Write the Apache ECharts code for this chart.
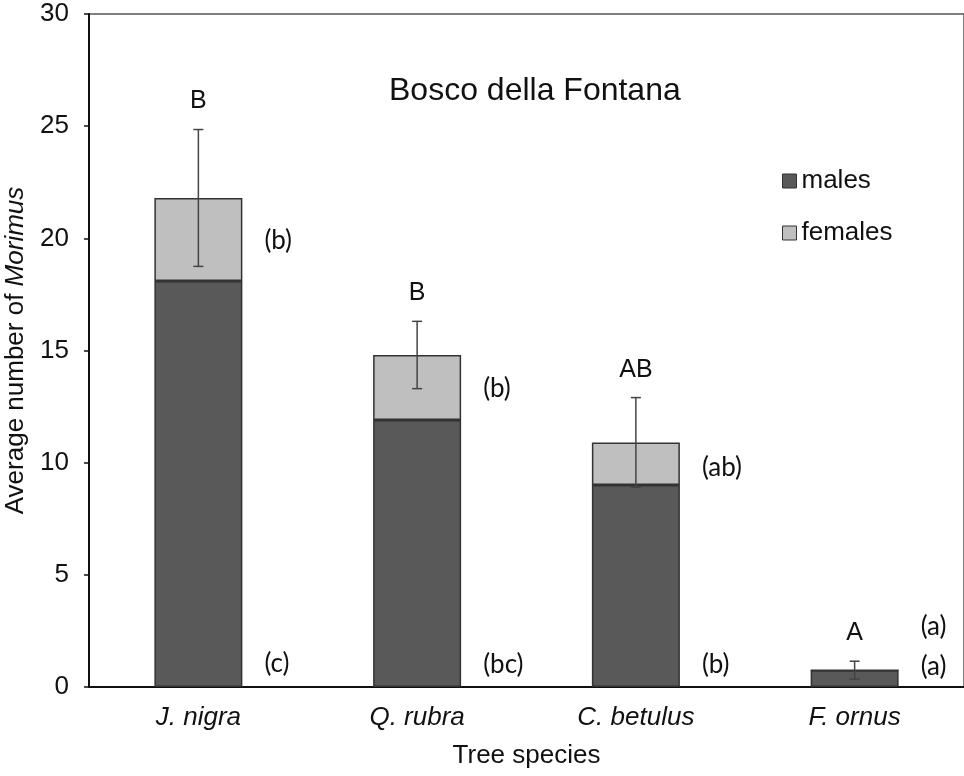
<!DOCTYPE html>
<html>
<head>
<meta charset="utf-8">
<script src="https://cdn.jsdelivr.net/npm/echarts@6/dist/echarts.min.js"></script>
<style>
  html, body { margin: 0; padding: 0; background: #fff; }
  #chart { width: 964px; height: 776px; }
</style>
</head>
<body>
<div id="chart"></div>
<script>
// data
const species = ['J. nigra', 'Q. rubra', 'C. betulus', 'F. ornus']
const males = [18.1, 11.9, 9.0, 0.75]
const females = [3.7, 2.9, 1.9, 0]
const errors = [3.05, 1.5, 2.0, 0.4] // +/- around the stacked total
const groupLetters = ['B', 'B', 'AB', 'A']
const femaleLetters = ['(b)', '(b)', '(ab)', '(a)']
const femaleLetterAt = [19.9, 13.3, 9.8, 2.7]
const maleLetters = ['(c)', '(bc)', '(b)', '(a)']
const maleLetterAt = [1.05, 1.0, 1.0, 0.9]
const yTicks = [0, 5, 10, 15, 20, 25, 30]

const chart = echarts.init(document.getElementById('chart'))

const errData = species.map((s, i) => [i, males[i] + females[i], errors[i]])
const letterData = []
species.forEach((s, i) => {
  letterData.push([i, femaleLetterAt[i], femaleLetters[i]])
  letterData.push([i, maleLetterAt[i], maleLetters[i]])
})

const option = {
  animation: false,
  title: {
    text: 'Bosco della Fontana',
    left: 384,
    top: 70,
    textStyle: { fontFamily: 'Liberation Sans', fontSize: 32, fontWeight: 'normal', color: '#111' }
  },
  legend: {
    orient: 'vertical',
    left: 777,
    top: 163,
    itemWidth: 14,
    itemHeight: 14,
    itemGap: 26,
    icon: 'rect',
    data: ['males', 'females'],
    itemStyle: { borderColor: '#333', borderWidth: 1 },
    textStyle: { fontFamily: 'Liberation Sans', fontSize: 26, color: '#111', padding: [0, 0, 0, 0] }
  },
  grid: {
    left: 89,
    right: 0,
    top: 14,
    bottom: 89,
    outerBoundsMode: 'none',
    show: true,
    borderColor: '#555',
    borderWidth: 1.5
  },
  xAxis: {
    type: 'category',
    data: species,
    axisTick: { show: false },
    axisLine: { lineStyle: { color: '#111', width: 2 } },
    axisLabel: {
      margin: 18,
      fontFamily: 'Liberation Sans',
      fontStyle: 'italic',
      fontSize: 26,
      color: '#111'
    },
    name: 'Tree species',
    nameLocation: 'middle',
    nameGap: 56,
    nameTextStyle: { fontFamily: 'Liberation Sans', fontSize: 26, color: '#111' }
  },
  yAxis: {
    type: 'value',
    min: 0,
    max: 30,
    interval: 5,
    splitLine: { show: false },
    axisLine: { show: true, lineStyle: { color: '#111', width: 2 } },
    axisTick: { show: true, length: 5, lineStyle: { color: '#111', width: 1.5 } },
    axisLabel: {
      margin: 20,
      fontFamily: 'Liberation Sans',
      fontSize: 26,
      color: '#111',
      formatter: v => (yTicks.indexOf(v) >= 0 ? String(v) : '')
    },
    name: 'Average number of {i|Morimus}',
    nameLocation: 'middle',
    nameGap: 59,
    nameTextStyle: {
      fontFamily: 'Liberation Sans',
      fontSize: 26,
      color: '#111',
      rich: { i: { fontFamily: 'Liberation Sans', fontSize: 26, fontStyle: 'italic', color: '#111' } }
    }
  },
  series: [
    {
      name: 'males',
      type: 'bar',
      stack: 'sex',
      barWidth: 88,
      data: males,
      itemStyle: { color: '#595959', borderColor: '#333', borderWidth: 1.5 }
    },
    {
      name: 'females',
      type: 'bar',
      stack: 'sex',
      barWidth: 88,
      data: females,
      itemStyle: { color: '#bfbfbf', borderColor: '#333', borderWidth: 1.5 }
    },
    {
      // error bars + letters above them
      type: 'custom',
      data: errData,
      z: 10,
      renderItem: (params, api) => {
        const i = api.value(0)
        const mid = api.value(1)
        const err = api.value(2)
        const top = api.coord([i, mid + err])
        const bot = api.coord([i, mid - err])
        const cap = 5
        const style = { stroke: '#444', lineWidth: 1.5 }
        return {
          type: 'group',
          children: [
            { type: 'line', shape: { x1: top[0], y1: top[1], x2: bot[0], y2: bot[1] }, style },
            { type: 'line', shape: { x1: top[0] - cap, y1: top[1], x2: top[0] + cap, y2: top[1] }, style },
            { type: 'line', shape: { x1: bot[0] - cap, y1: bot[1], x2: bot[0] + cap, y2: bot[1] }, style },
            {
              type: 'text',
              x: top[0],
              y: top[1] - 28,
              style: {
                text: groupLetters[i],
                align: 'center',
                verticalAlign: 'middle',
                fontFamily: 'Liberation Sans',
                fontSize: 25,
                fill: '#111'
              }
            }
          ]
        }
      }
    },
    {
      // lowercase letters beside bars
      type: 'custom',
      data: letterData,
      z: 10,
      renderItem: (params, api) => {
        const p = api.coord([api.value(0), api.value(1)])
        return {
          type: 'text',
          x: p[0] + 66,
          y: p[1],
          style: {
            text: letterData[params.dataIndex][2],
            align: 'left',
            verticalAlign: 'middle',
            fontFamily: 'Lato',
            fontSize: 26,
            fill: '#111'
          }
        }
      }
    }
  ]
}

chart.setOption(option)
</script>
</body>
</html>
